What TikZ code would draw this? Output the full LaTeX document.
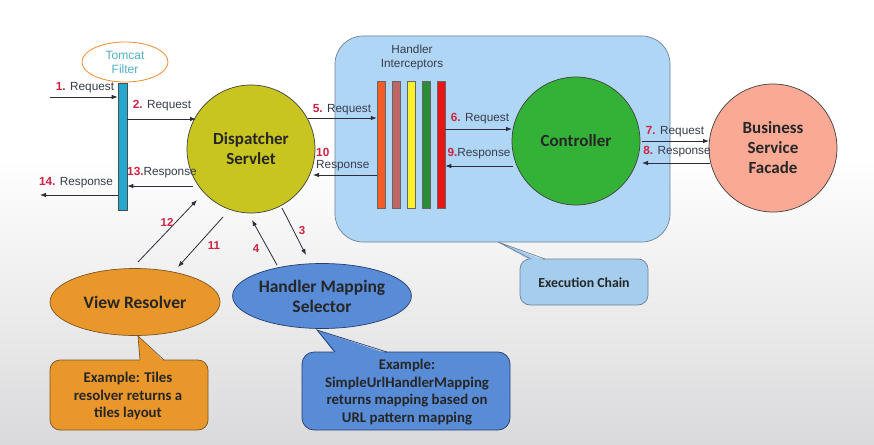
\documentclass[tikz,border=0pt]{standalone}
\usepackage{fontspec}
\setmainfont{Liberation Sans}
\newfontfamily\calfont{Carlito}
\usetikzlibrary{arrows.meta,shapes.geometric}
\definecolor{linec}{RGB}{45,45,55}
\definecolor{labc}{RGB}{55,60,75}
\definecolor{numc}{RGB}{205,35,65}
\definecolor{dispc}{RGB}{200,196,32}
\definecolor{ctrlc}{RGB}{52,178,56}
\definecolor{bsfc}{RGB}{250,170,148}
\definecolor{chainc}{RGB}{176,214,246}
\definecolor{chainb}{RGB}{110,130,150}
\definecolor{execc}{RGB}{165,205,238}
\definecolor{vrc}{RGB}{233,150,42}
\definecolor{vrb}{RGB}{120,85,35}
\definecolor{hmsc}{RGB}{88,140,214}
\definecolor{hmsb}{RGB}{40,60,110}
\definecolor{tomc}{RGB}{240,140,45}
\definecolor{tomt}{RGB}{80,175,195}
\definecolor{barc}{RGB}{38,168,206}
\definecolor{bgb}{RGB}{218,218,220}
\definecolor{ic1}{RGB}{242,92,40}
\definecolor{ic2}{RGB}{190,102,100}
\definecolor{ic3}{RGB}{250,240,45}
\definecolor{ic4}{RGB}{42,140,52}
\definecolor{ic5}{RGB}{230,22,22}
\newcommand\nm[1]{\textcolor{numc}{\textbf{#1}}}
\begin{document}
\begin{tikzpicture}[x=1pt,y=-1pt,
  arr/.style={draw=linec, line width=0.8pt, -{Latex[length=6pt,width=4.5pt]}},
  lbl/.style={font=\fontsize{11.8}{13}\selectfont, text=labc, inner sep=0pt},
  numlbl/.style={font=\fontsize{11.5}{13}\selectfont\bfseries, text=numc, inner sep=0pt},
  bigc/.style={circle, draw=black!75, line width=0.7pt, minimum size=128pt, inner sep=0pt,
     align=center, font=\calfont\bfseries\fontsize{17}{20}\selectfont, text=black!85},
  icbar/.style={draw=black!60, line width=0.5pt, minimum width=8pt, minimum height=127pt, inner sep=0pt},
  calltxt/.style={align=center, font=\calfont\bfseries\fontsize{14.8}{17.5}\selectfont, text=black!85, inner sep=0pt},
  ellnode/.style={ellipse, line width=0.7pt, inner sep=0pt, align=center,
     font=\calfont\bfseries\fontsize{17.5}{20}\selectfont, text=black!85}]
\useasboundingbox (0,0) rectangle (874,444);
% background
\fill[white] (0,0) rectangle (874,160);
\shade[top color=white, bottom color=bgb] (0,159) rectangle (874,444);

% execution chain container
\node[draw=chainb, fill=chainc, line width=0.7pt, rounded corners=28pt, minimum width=335pt, minimum height=206pt, inner sep=0pt] (chain) at (502.5,139) {};
\node[lbl, align=center, font=\fontsize{11.8}{14}\selectfont] (hi) at (412,57) {Handler\\Interceptors};

% Tomcat filter
\node[ellipse, draw=tomc, fill=white, line width=0.8pt, minimum width=86pt, minimum height=40pt, inner sep=0pt,
  align=center, text=tomt, font=\fontsize{12}{14}\selectfont] (tom) at (125,62) {Tomcat\\Filter};
\node[draw=black!70, fill=barc, line width=0.6pt, minimum width=9pt, minimum height=127pt, inner sep=0pt] (fbar) at (122.5,146.5) {};

% big circles
\node[bigc, fill=dispc] (disp) at (251,149) {Dispatcher\\Servlet};
\node[bigc, fill=ctrlc] (ctrl) at (576,141) {Controller};
\node[bigc, fill=bsfc] (bsf) at (773,148) {Business\\Service\\Facade};

% interceptor bars
\node[icbar, fill=ic1] (b1) at (381,144.5) {};
\node[icbar, fill=ic2] (b2) at (396,144.5) {};
\node[icbar, fill=ic3] (b3) at (411,144.5) {};
\node[icbar, fill=ic4] (b4) at (426,144.5) {};
\node[icbar, fill=ic5] (b5) at (441,144.5) {};

% horizontal connectors
\coordinate (in1) at (50,97);
\coordinate (out14) at (40,195);
\draw[arr] (in1) -- (in1 -| fbar.west);
\draw[arr] (fbar.east |- 0,119) -- (196,119);
\draw[arr] (193,186) -- (fbar.east |- 0,186);
\draw[arr] (fbar.west |- out14) -- (out14);
\draw[arr] (308,118) -- (b1.west |- 0,118);
\draw[arr] (b1.west |- 0,175) -- (313,175);
\draw[arr] (b5.east |- 0,129) -- (512,129);
\draw[arr] (513,166) -- (b5.east |- 0,166);
\draw[arr] (642,141) -- (709,141);
\draw[arr] (710,163) -- (642,163);

% horizontal labels
\node[lbl] (l1) at (85,88) {\nm{1.} Request};
\node[lbl] (l2) at (162,106) {\nm{2.} Request};
\node[lbl] (l13) at (162,173) {\nm{13.}Response};
\node[lbl] (l14) at (76,183) {\nm{14.} Response};
\node[lbl] (l5) at (342,110) {\nm{5.} Request};
\node[lbl, anchor=west] (l10a) at (316,152) {\nm{10}};
\node[lbl, anchor=west] (l10b) at (316,166) {Response};
\node[lbl] (l6) at (480,119) {\nm{6.} Request};
\node[lbl] (l9) at (479,154) {\nm{9.}Response};
\node[lbl] (l7) at (675,132) {\nm{7.} Request};
\node[lbl] (l8) at (677,152) {\nm{8.} Response};

% lower ellipses
\node[ellnode, draw=vrb, fill=vrc, minimum width=170pt, minimum height=67pt] (vr) at (135,302) {View Resolver};
\node[ellnode, draw=hmsb, fill=hmsc, minimum width=170pt, minimum height=65pt] (hms) at (322,296) {Handler Mapping\\Selector};

% diagonal connectors
\draw[arr] (138,262) -- (197,200);
\draw[arr] (223,217) -- (178,267);
\draw[arr] (277,265) -- (252,220);
\draw[arr] (282,208) -- (306,255);
\node[numlbl] (n12) at (167,222) {12};
\node[numlbl] (n11) at (214,246) {11};
\node[numlbl] (n4) at (256,249) {4};
\node[numlbl] (n3) at (302,231) {3};

% callout: execution chain
\node[draw=chainb, fill=execc, line width=0.7pt, rounded corners=10pt, minimum width=128pt, minimum height=46pt, inner sep=0pt] (exec) at (584,282) {};
\fill[execc] (531,260.5) -- (498,242) -- (545,260.5) -- cycle;
\draw[chainb, line width=0.7pt] (531,259) -- (498,242) -- (545,259);
\node[calltxt, font=\calfont\bfseries\fontsize{13.8}{17}\selectfont] (exect) at (584,283) {Execution Chain};

% callout: view resolver
\node[draw=vrb, fill=vrc, line width=0.7pt, rounded corners=10pt, minimum width=158pt, minimum height=70pt, inner sep=0pt] (vrbox) at (129,395) {};
\fill[vrc] (140,361.5) -- (138,336) -- (164,361.5) -- cycle;
\draw[vrb, line width=0.7pt] (140,360) -- (138,336) -- (164,360);
\node[calltxt] (vrt) at (128,396) {Example: Tiles\\resolver returns a\\tiles layout};

% callout: handler mapping
\node[draw=hmsb, fill=hmsc, line width=0.7pt, rounded corners=12pt, minimum width=208pt, minimum height=78pt, inner sep=0pt] (hmsbox) at (406,391) {};
\fill[hmsc] (335,353.5) -- (317,330) -- (387,353.5) -- cycle;
\draw[hmsb, line width=0.7pt] (335,352) -- (317,330) -- (387,352);
\node[calltxt] (hmst) at (407,392) {Example:\\SimpleUrlHandlerMapping\\returns mapping based on\\URL pattern mapping};
\end{tikzpicture}
\end{document}
